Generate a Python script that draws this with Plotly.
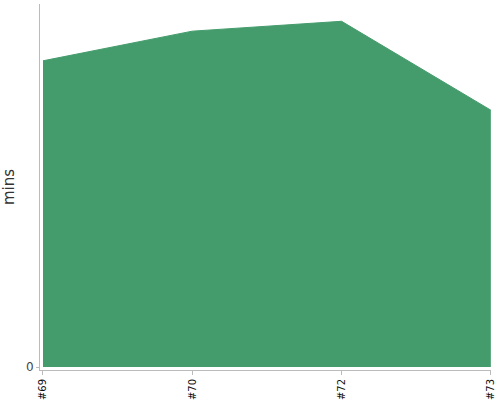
import plotly.graph_objects as go

# episode labels and duration in minutes
episodes = ["#69", "#70", "#72", "#73"]
minutes = [62, 68, 70, 52]

y_top = max(minutes) * 1.05

fig = go.Figure()
fig.add_trace(
	go.Scatter(
		x=episodes,
		y=minutes,
		mode="lines",
		fill="tozeroy",
		fillcolor="#449c6c",
		line=dict(color="#449c6c", width=1),
		hoverinfo="x+y",
	)
)

fig.update_layout(
	width=500,
	height=400,
	margin=dict(l=40, r=9, t=4, b=30, pad=0),
	paper_bgcolor="white",
	plot_bgcolor="white",
	showlegend=False,
	font=dict(family="DejaVu Sans", color="#333333"),
	xaxis=dict(
		type="category",
		range=[-0.02, 3.001],
		automargin=False,
		showgrid=False,
		zeroline=False,
		showline=True,
		linecolor="#bbbbbb",
		linewidth=1,
		ticks="outside",
		ticklen=4,
		tickcolor="#bbbbbb",
		tickangle=-90,
		tickfont=dict(size=10, color="#111111"),
	),
	yaxis=dict(
		range=[-y_top * 3 / 363, y_top],
		automargin=False,
		tickvals=[0],
		ticktext=["0"],
		showgrid=False,
		zeroline=False,
		showline=True,
		linecolor="#bbbbbb",
		linewidth=1,
		ticks="outside",
		ticklen=3,
		tickcolor="#bbbbbb",
		tickfont=dict(size=12, color="#444444"),
		title=dict(text="mins", font=dict(size=15, color="#333333"), standoff=14),
	),
)

# drop the default page margin so the chart sits at the window's corner
fig.write_html(
	"out.html",
	config={"displayModeBar": False},
	post_script="document.body.style.margin = '0';",
)
